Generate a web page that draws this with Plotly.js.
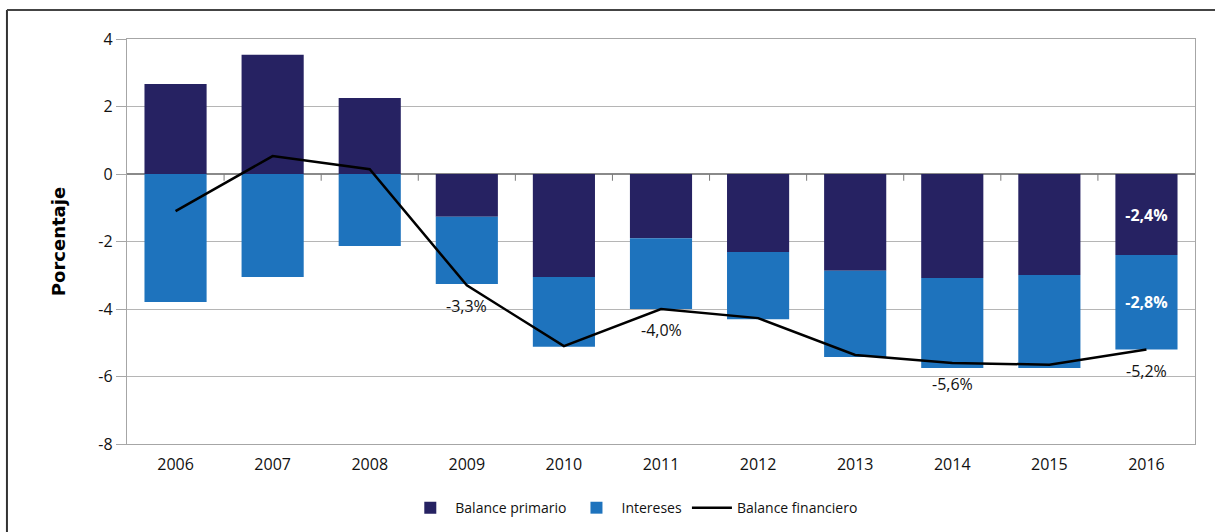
<!DOCTYPE html>
<html>
<head>
<meta charset="utf-8">
<script src="https://cdn.plot.ly/plotly-3.0.1.min.js"></script>
<style>
  html, body { margin: 0; padding: 0; background: #ffffff; }
  #chart { width: 1215px; height: 532px; }
</style>
</head>
<body>
<div id="chart"></div>
<script>
// ---- data ----
const years = ['2006','2007','2008','2009','2010','2011','2012','2013','2014','2015','2016'];
const balancePrimario = [2.67, 3.53, 2.25, -1.27, -3.05, -1.9, -2.31, -2.87, -3.08, -2.99, -2.4];
const intereses = [-3.79, -3.05, -2.13, -1.99, -2.07, -2.1, -1.99, -2.55, -2.67, -2.76, -2.8];
const balanceFinanciero = [-1.1, 0.53, 0.14, -3.3, -5.1, -4.0, -4.27, -5.36, -5.6, -5.65, -5.2];
// which points carry a printed value label
const lineLabelYears = ['2009', '2011', '2014', '2016'];
const barLabelYears = ['2016'];
const seriesNames = ['Balance primario', 'Intereses', 'Balance financiero'];
const yTicks = [-8, -6, -4, -2, 0, 2, 4];

const fmt = v => v.toFixed(1).replace('.', ',') + '%';
const primText = years.map((yr, i) => barLabelYears.includes(yr) ? fmt(balancePrimario[i]) : '');
const intText = years.map((yr, i) => barLabelYears.includes(yr) ? fmt(intereses[i]) : '');

const FONT = '"Open Sans", "Noto Sans", sans-serif';

const traces = [
  {
    type: 'bar', name: seriesNames[0], x: years, y: balancePrimario,
    marker: { color: '#262262' },
    text: primText, textposition: 'inside', insidetextanchor: 'middle',
    textfont: { color: '#ffffff', size: 16, family: FONT, weight: 'bold' },
    hoverinfo: 'x+y'
  },
  {
    type: 'bar', name: seriesNames[1], x: years, y: intereses,
    marker: { color: '#1e73bd' },
    text: intText, textposition: 'inside', insidetextanchor: 'middle',
    textfont: { color: '#ffffff', size: 16, family: FONT, weight: 'bold' },
    hoverinfo: 'x+y'
  },
  {
    type: 'scatter', mode: 'lines', name: seriesNames[2], x: years, y: balanceFinanciero,
    line: { color: '#000000', width: 2.5 },
    hoverinfo: 'x+y'
  }
];

// value labels under the line, built from the data arrays
const annotations = [];
years.forEach((yr, i) => {
  if (lineLabelYears.includes(yr)) {
    annotations.push({
      x: i, y: balanceFinanciero[i], xref: 'x', yref: 'y',
      text: fmt(balanceFinanciero[i]), showarrow: false,
      yshift: -21, font: { size: 16, family: FONT, color: '#111111' }
    });
  }
});

// small tick marks on the zero line between categories
const boundaryTicks = [];
for (let i = 0; i < years.length - 1; i++) {
  boundaryTicks.push({
    type: 'line', xref: 'x', yref: 'y', x0: i + 0.5, x1: i + 0.5,
    y0: 0, y1: -0.2,
    line: { color: '#7a7a7a', width: 1 }, layer: 'above'
  });
}

const layout = {
  width: 1215, height: 532,
  margin: { l: 127, r: 20, t: 39, b: 88 },
  paper_bgcolor: '#ffffff', plot_bgcolor: '#ffffff',
  font: { family: FONT, size: 16, color: '#111111' },
  barmode: 'relative',
  bargap: 0.36,
  showlegend: true,
  legend: {
    orientation: 'h', xref: 'paper', x: 0.475, xanchor: 'center',
    yref: 'container', y: 0.045, yanchor: 'middle',
    font: { size: 14, family: FONT, color: '#111111' },
    traceorder: 'normal', itemwidth: 40
  },
  xaxis: {
    type: 'category', range: [-0.5, 10.5],
    showgrid: false, zeroline: false,
    showline: true, linecolor: '#a6a6a6', linewidth: 1.2, mirror: true,
    ticks: 'outside', ticklen: 6, tickcolor: 'rgba(0,0,0,0)',
    tickfont: { size: 16, family: FONT, color: '#111111' },
    fixedrange: true
  },
  yaxis: {
    range: [-8, 4], tickvals: yTicks, ticktext: yTicks.map(String),
    showgrid: true, gridcolor: '#b5b5b5', gridwidth: 1,
    zeroline: true, zerolinecolor: '#8a8a8a', zerolinewidth: 1.5,
    showline: true, linecolor: '#a6a6a6', linewidth: 1.2, mirror: true,
    ticks: 'outside', ticklen: 10, tickcolor: '#a6a6a6',
    tickfont: { size: 16, family: FONT, color: '#111111' },
    title: { text: 'Porcentaje', font: { size: 18, family: '"DejaVu Sans", sans-serif', color: '#000000', weight: 'bold' }, standoff: 28 },
    fixedrange: true
  },
  annotations: annotations,
  shapes: boundaryTicks.concat([
    { type: 'line', xref: 'paper', yref: 'paper', x0: -0.1124, x1: -0.1124, y0: 1.0716, y1: -0.25,
      line: { color: '#333333', width: 2 } },
    { type: 'line', xref: 'paper', yref: 'paper', x0: -0.1124, x1: 1.03, y0: 1.0716, y1: 1.0716,
      line: { color: '#444444', width: 2 } }
  ])
};

Plotly.newPlot('chart', traces, layout, { displayModeBar: false, staticPlot: true });
</script>
</body>
</html>
